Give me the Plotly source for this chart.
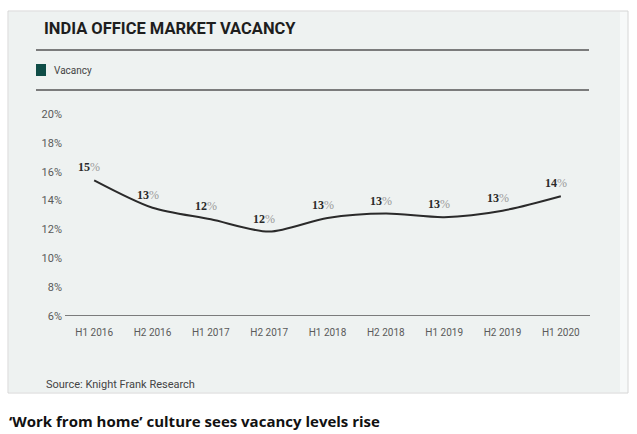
import plotly.graph_objects as go

periods = ["H1 2016", "H2 2016", "H1 2017", "H2 2017", "H1 2018",
           "H2 2018", "H1 2019", "H2 2019", "H1 2020"]
vacancy = [15.4, 13.5, 12.7, 11.85, 12.8, 13.1, 12.85, 13.3, 14.3]
value_labels = ["15", "13", "12", "12", "13", "13", "13", "13", "14"]
y_ticks = [6, 8, 10, 12, 14, 16, 18, 20]

W, H = 637, 434
ML, MR, MT, MB = 65, 47, 114, 118
PANEL = "#eef2f1"
LINE = "#2a2a2a"
GREY_TXT = "#5a5a5a"

# pixel -> paper (paper is the plot area in plotly)
def px(x):
    return (x - ML) / (W - ML - MR)

def py(y):
    return (H - MB - y) / (H - MT - MB)

fig = go.Figure()
fig.add_trace(go.Scatter(x=periods, y=vacancy, mode="lines",
                         line=dict(color=LINE, width=2, shape="spline", smoothing=0.8),
                         showlegend=False, hoverinfo="skip"))

# value labels above the line
for p, v, lab in zip(periods, vacancy, value_labels):
    fig.add_annotation(x=p, y=v, text=f"<b>{lab}</b><span style='color:#9a9a9a'>%</span>",
                       showarrow=False, xshift=-5, yshift=13,
                       font=dict(family="Liberation Serif", size=12, color="#2a2a2a"))

shapes = [
    # outer panel
    dict(type="rect", xref="paper", yref="paper", x0=px(8), x1=px(628), y0=py(393), y1=py(11),
         fillcolor="#f7f9f9", line=dict(color="#d6d6d6", width=1), layer="below"),
    dict(type="rect", xref="paper", yref="paper", x0=px(9), x1=px(620), y0=py(392), y1=py(12),
         fillcolor=PANEL, line=dict(width=0), layer="below"),
    # rules under title and legend
    dict(type="line", xref="paper", yref="paper", x0=px(36), x1=px(589), y0=py(50), y1=py(50),
         line=dict(color="#555555", width=1.5)),
    dict(type="line", xref="paper", yref="paper", x0=px(36), x1=px(589), y0=py(90), y1=py(90),
         line=dict(color="#555555", width=1.5)),
    # legend swatch
    dict(type="rect", xref="paper", yref="paper", x0=px(36), x1=px(46), y0=py(76), y1=py(64),
         fillcolor="#0f4d47", line=dict(width=0)),
]

annotations = [
    dict(text="<b>INDIA OFFICE MARKET VACANCY</b>", x=px(42), y=py(28), xref="paper", yref="paper",
         xanchor="left", yanchor="middle", showarrow=False,
         font=dict(family="Roboto", size=16.5, color="#1e1e1e")),
    dict(text="Vacancy", x=px(52), y=py(70), xref="paper", yref="paper",
         xanchor="left", yanchor="middle", showarrow=False,
         font=dict(family="Roboto", size=10, color="#444444")),
    dict(text="Source: Knight Frank Research", x=px(44), y=py(384), xref="paper", yref="paper",
         xanchor="left", yanchor="middle", showarrow=False,
         font=dict(family="Roboto", size=11, color="#444444")),
    dict(text="<b>\u2018Work from home\u2019 culture sees vacancy levels rise</b>", x=px(7), y=py(421),
         xref="paper", yref="paper", xanchor="left", yanchor="middle", showarrow=False,
         font=dict(family="Open Sans", size=15, color="#111111")),
]
for a in annotations:
    fig.add_annotation(**a)

fig.update_layout(
    width=W, height=H,
    margin=dict(l=ML, r=MR, t=MT, b=MB),
    paper_bgcolor="white", plot_bgcolor="rgba(0,0,0,0)",
    shapes=shapes,
    font=dict(family="Roboto", color=GREY_TXT),
)
fig.update_xaxes(type="category", range=[-0.5, 8.5], showgrid=False, zeroline=False,
                 showline=False, ticks="", ticklabelstandoff=9,
                 tickfont=dict(size=10, color=GREY_TXT), fixedrange=True)
fig.update_yaxes(range=[6, 20], tickvals=y_ticks, ticktext=[f"{t}%" for t in y_ticks],
                 showgrid=False, zeroline=False, showline=False, ticks="",
                 ticklabelstandoff=2, tickfont=dict(size=11, color=GREY_TXT), fixedrange=True)
# baseline at 6%
fig.add_shape(type="line", xref="paper", yref="y", x0=0, x1=1, y0=6, y1=6,
              line=dict(color="#555555", width=1.5))

fig.write_html("out.html", config={"displayModeBar": False},
               post_script="document.body.style.margin='0';")
